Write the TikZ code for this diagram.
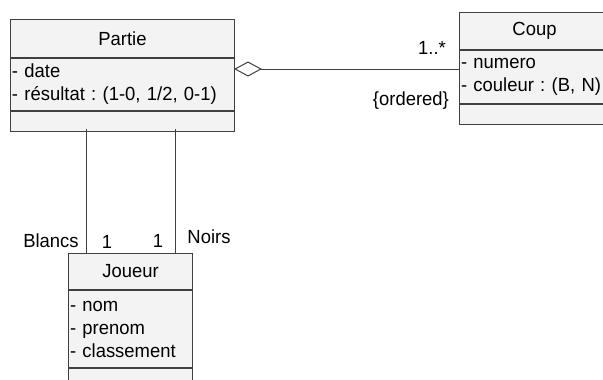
\documentclass[tikz,border=0pt]{standalone}
\usepackage{fontspec}
\setmainfont[FakeStretch=0.97]{Liberation Sans}
\usetikzlibrary{arrows.meta,positioning}
\frenchspacing

\definecolor{boxgray}{HTML}{F3F3F3}
\definecolor{linegray}{HTML}{404040}

\tikzset{
	classe/.style={draw=linegray, fill=boxgray, line width=1pt, inner sep=1.5pt,
		anchor=north west, font=\fontsize{19}{23}\selectfont},
	attrs/.style={classe, align=left},
	assoc/.style={draw=linegray, line width=1pt},
	role/.style={inner sep=0pt, font=\fontsize{19}{21}\selectfont}
}

\begin{document}
\begin{tikzpicture}[x=1pt,y=-1pt]
	\useasboundingbox (0,0) rectangle (603,380);
	
	% Partie
	\node[classe, minimum width=224pt, minimum height=38pt] (partie) at (10,19) {Partie};
	\node[attrs, minimum width=224pt, minimum height=52pt, text width=221pt] (partieAttr) at (partie.south west) {- date\\- résultat : (1-0, 1/2, 0-1)};
	\node[classe, minimum width=224pt, minimum height=20pt] (partieOps) at (partieAttr.south west) {};
	
	% Coup
	\node[classe, minimum width=150pt, minimum height=37pt] (coup) at (459,12) {Coup};
	\node[attrs, minimum width=150pt, minimum height=53pt, text width=147pt] (coupAttr) at (coup.south west) {- numero\\- couleur : (B, N)};
	\node[classe, minimum width=150pt, minimum height=20pt] (coupOps) at (coupAttr.south west) {};
	
	% Joueur
	\node[classe, minimum width=124pt, minimum height=36pt] (joueur) at (68,253) {Joueur};
	\node[attrs, minimum width=124pt, minimum height=77pt, text width=121pt] (joueurAttr) at (joueur.south west) {- nom\\- prenom\\- classement};
	\node[classe, minimum width=124pt, minimum height=20pt] (joueurOps) at (joueurAttr.south west) {};
	
	% associations
	\coordinate (agg) at (234,69);
	\draw[assoc, {Diamond[open, length=28pt, width=15pt]}-] (agg) -- (agg -| coupAttr.west);
	\coordinate (blancs) at (86,129);
	\coordinate (noirs) at (175,129);
	\draw[assoc] (blancs) -- (blancs |- joueur.north);
	\draw[assoc] (noirs) -- (noirs |- joueur.north);
	
	\node[role, anchor=east] (multCoup) at (446,48) {1..*};
	\node[role, anchor=east] (ordre) at (449,101) {\{ordered\}};
	\node[role] (roleBlancs) at (51,241) {Blancs};
	\node[role] (multBlancs) at (107,242) {1};
	\node[role] (multNoirs) at (158,241) {1};
	\node[role] (roleNoirs) at (209,237) {Noirs};
\end{tikzpicture}
\end{document}
